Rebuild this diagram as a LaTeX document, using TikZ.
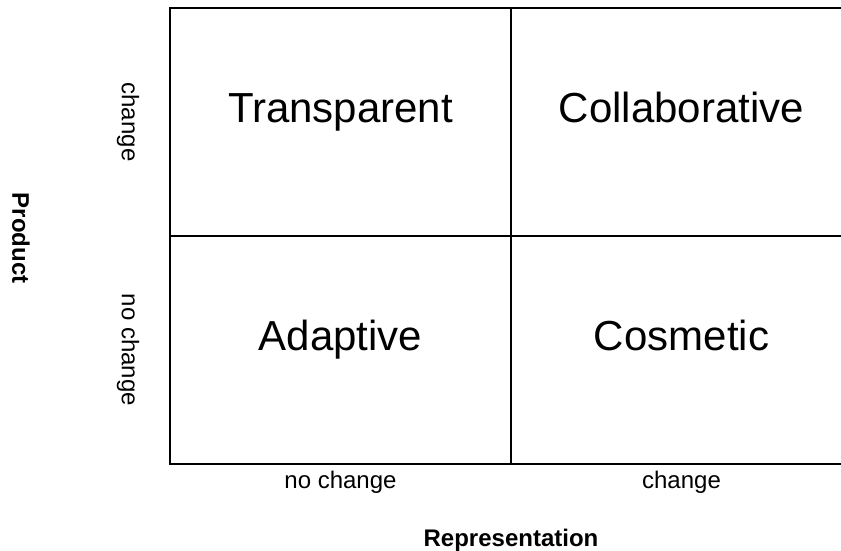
\documentclass[tikz,border=0pt]{standalone}
\usepackage{fontspec}
\setmainfont{Liberation Sans}

\begin{document}
\begin{tikzpicture}[x=1pt,y=-1pt,
    grid/.style={line width=2pt},
    quad/.style={anchor=base,font=\fontsize{42}{50}\selectfont},
    tick/.style={font=\fontsize{24}{29}\selectfont},
    axis/.style={font=\fontsize{24}{29}\selectfont\bfseries}]
  \useasboundingbox (0,0) rectangle (841,551);
  % corners of the 2x2 grid (right side runs just off the page)
  \coordinate (nw) at (170,8.5);
  \coordinate (se) at (852,464);
  \coordinate (mt) at (511,8.5);
  \coordinate (mb) at (511,464);
  \coordinate (ml) at (170,236);
  \coordinate (mr) at (852,236);
  \draw[grid] (nw) rectangle (se);
  \draw[grid] (mt) -- (mb);
  \draw[grid] (ml) -- (mr);
  % quadrant names, baseline on the cell centre
  \node[quad] (transparent) at (340.5,122) {Transparent};
  \node[quad] (collaborative) at (681.5,122) {Collaborative};
  \node[quad] (adaptive) at (340.5,350) {Adaptive};
  \node[quad] (cosmetic) at (681.5,350) {Cosmetic};
  % product axis
  \node[tick,rotate=-90] (pchange) at (128,122) {change};
  \node[tick,rotate=-90] (pnochange) at (128,350) {no change};
  \node[axis,rotate=-90] (product) at (21,238) {Product};
  % representation axis
  \node[tick] (rnochange) at (340.5,482) {no change};
  \node[tick] (rchange) at (681.5,482) {change};
  \node[axis] (representation) at (511,540) {Representation};
\end{tikzpicture}
\end{document}
